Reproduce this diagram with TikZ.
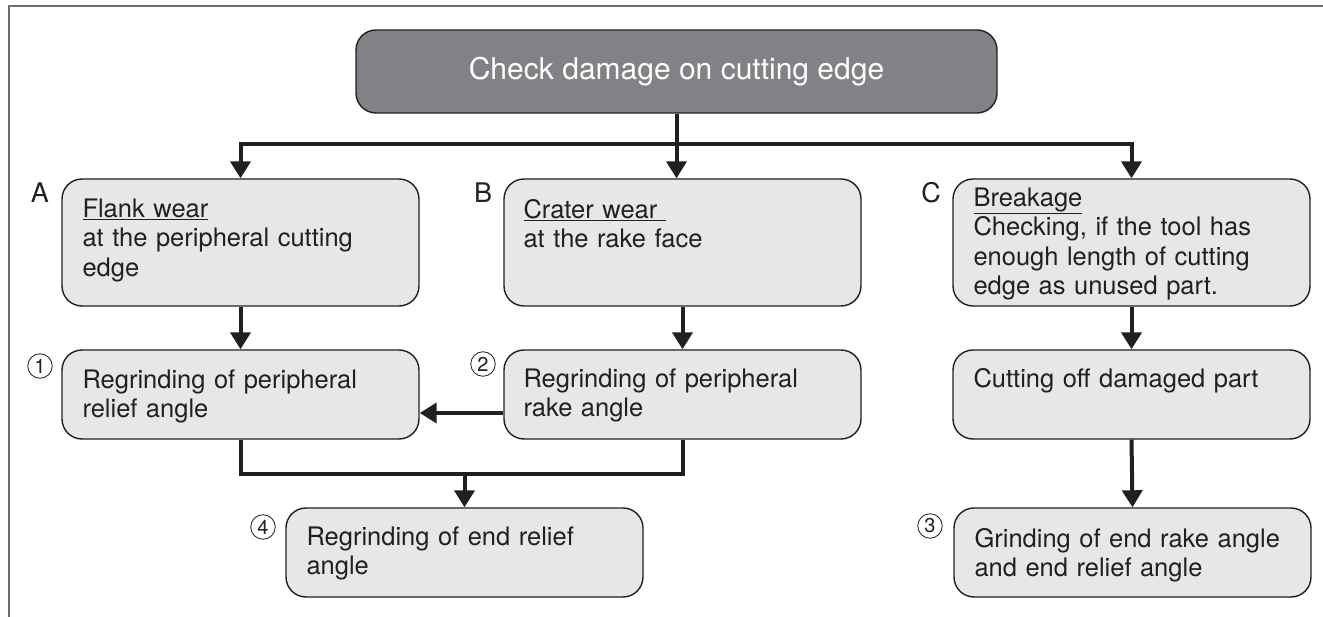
\documentclass[tikz,border=0pt]{standalone}
\usepackage{fontspec}
\setmainfont{TeX Gyre Heros}
\usetikzlibrary{arrows.meta,calc}
\definecolor{ink}{HTML}{231F20}
\definecolor{boxfill}{HTML}{E6E7E8}
\definecolor{topfill}{HTML}{808285}
\definecolor{framegray}{HTML}{6D6E71}
\tikzset{
  stepbox/.style={draw=ink, line width=1.4pt, fill=boxfill, rounded corners=20pt,
    minimum width=357pt, inner sep=0pt},
  topbox/.style={draw=ink, line width=1.4pt, fill=topfill, rounded corners=20pt,
    minimum width=641pt, minimum height=83pt, inner sep=0pt, text=white,
    font=\fontsize{30}{35}\selectfont},
  txt/.style={anchor=base west, text width=330pt, align=left, inner sep=0pt,
    text=ink, font=\fontsize{25.5}{29.5}\selectfont},
  arr/.style={draw=ink, line width=4pt, -{Triangle[width=20pt,length=17pt]}},
  link/.style={draw=ink, line width=4pt},
  tag/.style={text=ink, font=\fontsize{27}{30}\selectfont, inner sep=0pt},
  num/.style={circle, draw=ink, line width=0.8pt, minimum size=24.5pt, inner sep=0pt,
    text=ink, font=\fontsize{20}{21}\selectfont},
  frameline/.style={draw=framegray, line width=2pt}
}
\begin{document}
\begin{tikzpicture}[x=1pt,y=-1pt]
\useasboundingbox (0,0) rectangle (1323,617);
\draw[frameline] (8.5,617) -- (8.5,6.5) -- (1323,6.5);

% boxes
\node[topbox] (top) at (676.5,71.5) {Check damage on cutting edge};
\node[stepbox, minimum height=127pt] (A) at (240.5,242.5) {};
\node[stepbox, minimum height=127pt] (B) at (682.5,242.5) {};
\node[stepbox, minimum height=127pt] (C) at (1131.5,242.5) {};
\node[stepbox, minimum height=89pt] (b1) at (240.5,394.5) {};
\node[stepbox, minimum height=89pt] (b2) at (682.5,394.5) {};
\node[stepbox, minimum height=89pt] (cut) at (1131.5,394.5) {};
\node[stepbox, minimum height=89pt] (b4) at (464.5,552.5) {};
\node[stepbox, minimum height=89pt] (b3) at (1132.5,552.5) {};

% texts
\node[txt] (tA) at ($(A.north west)+(21,39)$) {\underline{Flank wear}\\at the peripheral cutting\\edge};
\node[txt] (tB) at ($(B.north west)+(20,40)$) {\underline{Crater wear\ }\\at the rake face};
\node[txt] (tC) at ($(C.north west)+(21,28)$) {\underline{Breakage}\\Checking, if the tool has\\enough length of cutting\\edge as unused part.};
\node[txt] (t1) at ($(b1.north west)+(21,39)$) {Regrinding of peripheral\\relief angle};
\node[txt] (t2) at ($(b2.north west)+(20,38)$) {Regrinding of peripheral\\rake angle};
\node[txt] (tcut) at ($(cut.north west)+(21,38)$) {Cutting off damaged part};
\node[txt] (t4) at ($(b4.north west)+(21,38)$) {Regrinding of end relief\\angle};
\node[txt] (t3) at ($(b3.north west)+(21,40)$) {Grinding of end rake angle\\and end relief angle};

% tags
\node[tag] (lA) at (40,193) {A};
\node[tag] (lB) at (483,193) {B};
\node[tag] (lC) at (931,193) {C};
\node[num] (n1) at (40,366) {1};
\node[num] (n2) at (483,364) {2};
\node[num] (n3) at (930,526) {3};
\node[num] (n4) at (263,527) {4};

% connectors
\coordinate (bus) at (top.south |- 0,144);
\draw[arr] (top.south) -- (top.south |- B.north);
\draw[arr] (bus) -| (A.north);
\draw[arr] (bus) -| (C.north);
\draw[arr] (A.south) -- (b1.north);
\draw[arr] (B.south) -- (b2.north);
\draw[arr] (C.south) -- (cut.north);
\draw[arr] (cut.south) -- (b3.north);
\draw[arr] ([yshift=-18.5pt]b2.west) -- ([yshift=-18.5pt]b1.east);
\coordinate (merge) at (b4.north |- 0,474);
\draw[link] (b1.south) |- (merge) -| (b2.south);
\draw[arr] (merge) -- (b4.north);
\end{tikzpicture}
\end{document}
